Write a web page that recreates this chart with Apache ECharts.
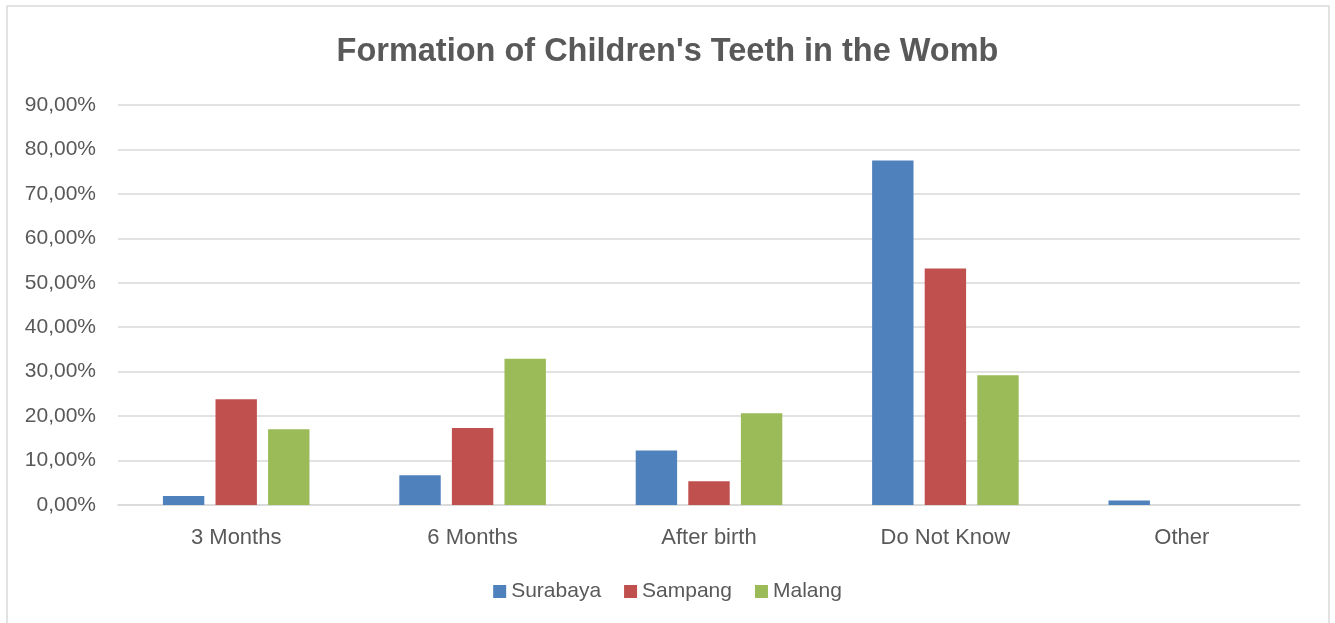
<!DOCTYPE html>
<html>
<head>
<meta charset="utf-8">
<script src="https://cdn.jsdelivr.net/npm/echarts@6/dist/echarts.min.js"></script>
<style>
html,body{margin:0;padding:0;background:#fff;}
#chart{width:1335px;height:623px;}
</style>
</head>
<body>
<div id="chart"></div>
<script>
const categories = ['3 Months', '6 Months', 'After birth', 'Do Not Know', 'Other'];
const surabaya = [2.03, 6.7, 12.24, 77.5, 1.0];
const sampang = [23.8, 17.3, 5.34, 53.2, 0];
const malang = [17.05, 32.9, 20.66, 29.2, 0];
const seriesNames = ['Surabaya', 'Sampang', 'Malang'];
const colors = ['#4F81BD', '#C0504D', '#9BBB59'];
const titleText = "Formation of Children's Teeth in the Womb";

const FONT = '"Liberation Sans", Arial, sans-serif';
const chart = echarts.init(document.getElementById('chart'), null, {renderer: 'canvas'});
const mk = (name, data, i) => ({
  name: name, type: 'bar', data: data,
  itemStyle: {color: colors[i]},
  barGap: '27%', barCategoryGap: '38%'
});
chart.setOption({
  animation: false,
  backgroundColor: '#ffffff',
  graphic: [{
    type: 'rect', shape: {x: 7, y: 6, width: 1322, height: 640},
    style: {fill: 'none', stroke: '#d9d9d9', lineWidth: 1.5}, silent: true, z: -1
  }],
  title: {
    text: titleText, left: 'center', top: 31,
    textStyle: {fontFamily: FONT, fontWeight: 'bold', fontSize: 32.5, color: '#595959'}
  },
  legend: {
    data: seriesNames, bottom: 16, left: 'center',
    itemWidth: 13, itemHeight: 13, itemGap: 23, icon: 'rect',
    textStyle: {fontFamily: FONT, fontSize: 21, color: '#595959'}
  },
  grid: {left: 118, right: 35, top: 105, bottom: 118, containLabel: false},
  xAxis: {
    type: 'category', data: categories,
    axisLine: {lineStyle: {color: '#d9d9d9', width: 1.5}},
    axisTick: {show: false},
    axisLabel: {fontFamily: FONT, fontSize: 22, color: '#595959', margin: 22}
  },
  yAxis: {
    type: 'value', min: 0, max: 90, interval: 10,
    axisLine: {show: false}, axisTick: {show: false},
    splitLine: {lineStyle: {color: '#d9d9d9', width: 1.5}},
    axisLabel: {
      fontFamily: FONT, fontSize: 21, color: '#595959', margin: 22,
      formatter: v => v.toFixed(2).replace('.', ',') + '%'
    }
  },
  series: [mk(seriesNames[0], surabaya, 0), mk(seriesNames[1], sampang, 1), mk(seriesNames[2], malang, 2)]
});
</script>
</body>
</html>
